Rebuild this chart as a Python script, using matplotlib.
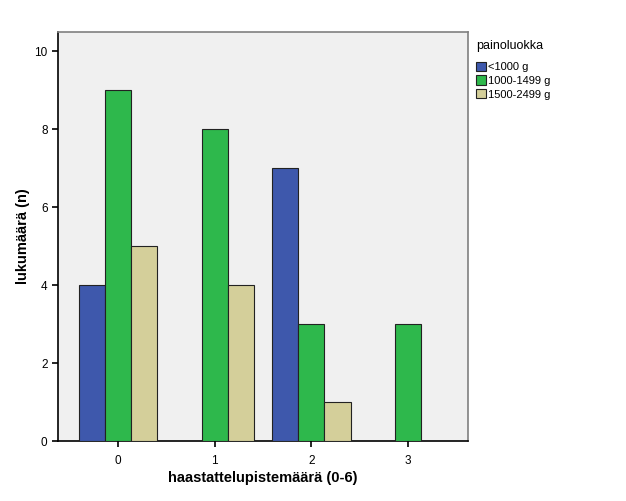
import matplotlib.pyplot as plt
import numpy as np

# haastattelupistemäärä -luokat ja lukumäärät painoluokittain
categories = ['0', '1', '2', '3']
groups = ['<1000 g', '1000-1499 g', '1500-2499 g']
counts_lt1000 = [4, 0, 7, 0]
counts_1000_1499 = [9, 8, 3, 3]
counts_1500_2499 = [5, 4, 1, 0]
colors = ['#3E58AC', '#2EB84C', '#D4CF9A']

plt.rcParams['font.family'] = ['Liberation Sans', 'DejaVu Sans']

fig = plt.figure(figsize=(6.26, 5.01), dpi=100)
ax = fig.add_axes([58 / 626, 1 - 441 / 501, 410 / 626, 409 / 501])
ax.set_facecolor('#F0F0F0')

x = np.arange(len(categories))
w = 0.27
series = [counts_lt1000, counts_1000_1499, counts_1500_2499]
for i, (vals, lab, col) in enumerate(zip(series, groups, colors)):
    vals = np.array(vals, dtype=float)
    vals[vals == 0] = np.nan  # tyhjiä pylväitä ei piirretä
    ax.bar(x + (i - 1) * w, vals, width=w, color=col, edgecolor='#222222',
           linewidth=0.8, label=lab, zorder=3)

ax.set_xlim(-0.62, 3.62)
ax.set_ylim(0, 10.5)
ax.set_xticks(x)
ax.set_xticklabels(categories)
ax.set_yticks([0, 2, 4, 6, 8, 10])
ax.tick_params(axis='both', labelsize=8.5, length=4, width=1.2, direction='out')
ax.tick_params(axis='x', pad=6)

for s in ['left', 'bottom']:
    ax.spines[s].set_color('black')
    ax.spines[s].set_linewidth(1.2)
for s in ['top', 'right']:
    ax.spines[s].set_color('#808080')
    ax.spines[s].set_linewidth(1.2)

ax.set_xlabel('haastattelupistemäärä (0-6)', fontsize=10.5, fontweight='bold', labelpad=3)
ax.set_ylabel('lukumäärä (n)', fontsize=10.5, fontweight='bold', labelpad=3)

leg = ax.legend(loc='upper left', bbox_to_anchor=(1.0, 1.0), frameon=False,
                title='painoluokka', fontsize=8, title_fontsize=9,
                handlelength=0.9, handleheight=0.9, handletextpad=0.2,
                labelspacing=0.3, borderaxespad=0.3)
leg._legend_box.align = 'left'
leg._legend_box.sep = 7
for h in leg.legend_handles:
    h.set_linewidth(0.8)

fig.savefig('out.png', dpi=100)
